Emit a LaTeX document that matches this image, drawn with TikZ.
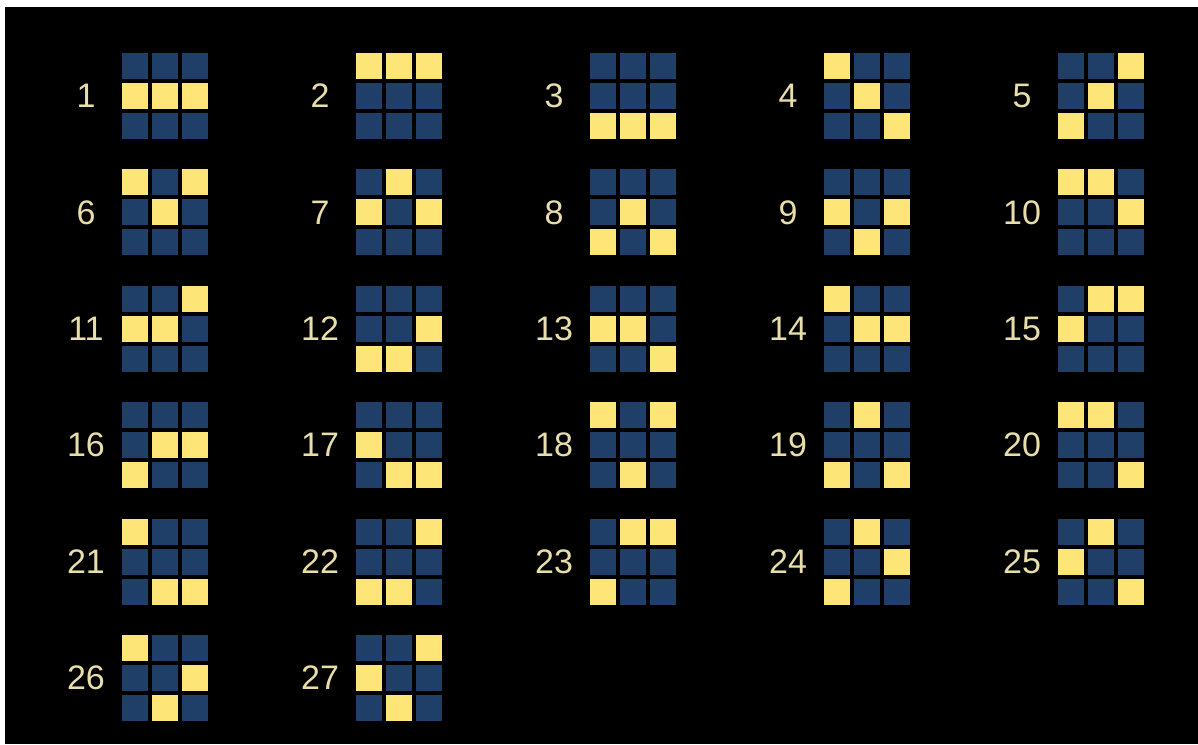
\documentclass[tikz,border=0pt]{standalone}
\usepackage{fontspec}
\setmainfont{Liberation Sans}
\definecolor{cellblue}{RGB}{31,62,104}
\definecolor{cellyellow}{RGB}{253,229,120}
\definecolor{labeltext}{RGB}{232,222,170}
\begin{document}
\begin{tikzpicture}[x=1pt,y=-1pt,
  cellbox/.style={minimum size=26pt,inner sep=0pt,outer sep=0pt,anchor=north west,draw=none},
  numlabel/.style={text=labeltext,font=\fontsize{34}{34}\selectfont,inner sep=0pt,anchor=center}]
\useasboundingbox (0,0) rectangle (1198,744);
\fill[white] (0,0) rectangle (1198,744);
\fill[black] (5,7) rectangle (1198,744);
\foreach \n/\a/\b/\c in {1/1/1/1,2/0/0/0,3/2/2/2,4/0/1/2,5/2/1/0,
  6/0/1/0,7/1/0/1,8/2/1/2,9/1/2/1,10/0/0/1,
  11/1/1/0,12/2/2/1,13/1/1/2,14/0/1/1,15/1/0/0,
  16/2/1/1,17/1/2/2,18/0/2/0,19/2/0/2,20/0/0/2,
  21/0/2/2,22/2/2/0,23/2/0/0,24/2/0/1,25/1/0/2,
  26/0/2/1,27/1/2/0}{
  \pgfmathtruncatemacro\gc{mod(\n-1,5)}
  \pgfmathtruncatemacro\gr{div(\n-1,5)}
  \pgfmathsetmacro\L{122+234*\gc}
  \pgfmathsetmacro\T{53+116.4*\gr}
  \node[numlabel] (lab\n) at ({\L-36},{\T+43}) {\n};
  \foreach \i in {0,1,2}{
    \pgfmathtruncatemacro\p{{\a,\b,\c}[\i]}
    \foreach \j in {0,1,2}{
      \def\cc{cellblue}
      \ifnum\p=\j\relax\def\cc{cellyellow}\fi
      \node[cellbox,fill=\cc] (c\n-\i-\j) at ({\L+30*\i},{\T+30*\j}) {};
    }
  }
}
\end{tikzpicture}
\end{document}
